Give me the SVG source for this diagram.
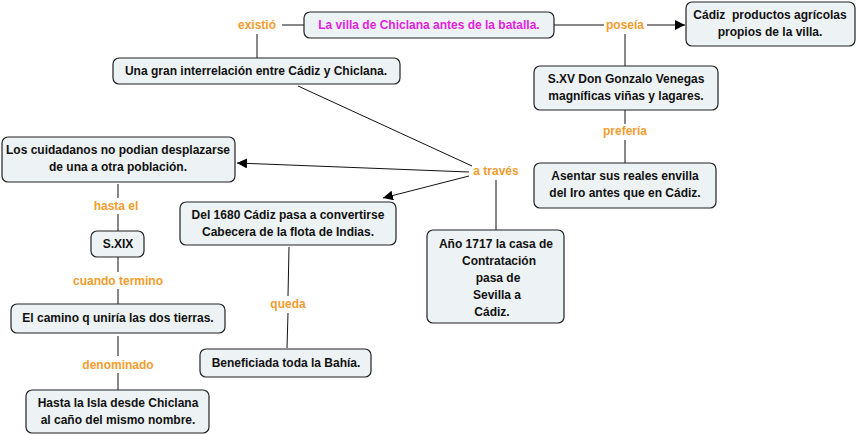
<svg xmlns="http://www.w3.org/2000/svg" width="857" height="435" viewBox="0 0 857 435">
<defs>
<marker id="arr" viewBox="0 0 10 10" refX="10" refY="5" markerWidth="10" markerHeight="10" markerUnits="userSpaceOnUse" orient="auto">
<path d="M0,0 L10,5 L0,10 z" fill="#000"/>
</marker>
</defs>
<style>
.box{fill:#edf2f4;stroke:#222;stroke-width:1.2}
.t{font-family:"Liberation Sans",Arial,sans-serif;font-size:12px;font-weight:bold;fill:#111;text-anchor:middle}
.mag{fill:#e21ee0}
.lk{font-family:"Liberation Sans",Arial,sans-serif;font-size:12px;font-weight:bold;fill:#f39c2e;text-anchor:middle}
.c{stroke:#111;stroke-width:1;fill:none}
</style>
<rect width="857" height="435" fill="#fff"/>
<g id="connectors">
<line class="c" x1="304" y1="25" x2="282" y2="25"/>
<line class="c" x1="257" y1="34" x2="257" y2="58"/>
<line class="c" x1="554" y1="25" x2="604" y2="25"/>
<line class="c" x1="647" y1="25" x2="685" y2="25" marker-end="url(#arr)"/>
<line class="c" x1="625" y1="34" x2="625" y2="66"/>
<line class="c" x1="625" y1="110" x2="625" y2="124"/>
<line class="c" x1="625" y1="140" x2="625" y2="163"/>
<line class="c" x1="298" y1="86" x2="472" y2="166"/>
<line class="c" x1="469" y1="172" x2="237" y2="163" marker-end="url(#arr)"/>
<line class="c" x1="469" y1="176" x2="383" y2="198" marker-end="url(#arr)"/>
<line class="c" x1="496" y1="180" x2="496" y2="230"/>
<line class="c" x1="118" y1="184" x2="118" y2="198"/>
<line class="c" x1="118" y1="214" x2="118" y2="231"/>
<line class="c" x1="118" y1="257" x2="118" y2="272"/>
<line class="c" x1="118" y1="289" x2="118" y2="304"/>
<line class="c" x1="118" y1="336" x2="118" y2="356"/>
<line class="c" x1="118" y1="373" x2="118" y2="390"/>
<line class="c" x1="289" y1="247" x2="288" y2="296"/>
<line class="c" x1="288" y1="313" x2="287" y2="348"/>
</g>
<g id="l-existio"><text class="lk" x="257" y="29">existió</text></g>
<g id="l-poseia"><text class="lk" x="625" y="29">poseía</text></g>
<g id="l-preferia"><text class="lk" x="625" y="135">prefería</text></g>
<g id="l-atraves"><text class="lk" x="496" y="175">a través</text></g>
<g id="l-hastael"><text class="lk" x="116" y="210">hasta el</text></g>
<g id="l-cuando"><text class="lk" x="118" y="285">cuando termino</text></g>
<g id="l-denominado"><text class="lk" x="118" y="369">denominado</text></g>
<g id="l-queda"><text class="lk" x="288" y="308">queda</text></g>

<g id="n1"><rect class="box" x="304" y="12" width="250" height="26" rx="6"/><text class="t mag" x="429" y="29">La villa de Chiclana antes de la batalla.</text></g>
<g id="n2"><rect class="box" x="686" y="2" width="169" height="44" rx="6"/><text class="t" x="770" y="19">Cádiz&#160; productos agrícolas</text><text class="t" x="770" y="36">propios de la villa.</text></g>
<g id="n3"><rect class="box" x="113" y="58" width="287" height="26" rx="6"/><text class="t" x="256" y="75">Una gran interrelación entre Cádiz y Chiclana.</text></g>
<g id="n4"><rect class="box" x="534" y="66" width="184" height="44" rx="6"/><text class="t" x="626" y="83">S.XV Don Gonzalo Venegas</text><text class="t" x="626" y="100">magníficas viñas y lagares.</text></g>
<g id="n5"><rect class="box" x="534" y="163" width="182" height="45" rx="6"/><text class="t" x="625" y="180">Asentar sus reales envilla</text><text class="t" x="625" y="197">del Iro antes que en Cádiz.</text></g>
<g id="n6"><rect class="box" x="2" y="137" width="233" height="45" rx="6"/><text class="t" x="118" y="154">Los cuidadanos no podian desplazarse</text><text class="t" x="118" y="171">de una a otra población.</text></g>
<g id="n7"><rect class="box" x="180" y="202" width="216" height="43" rx="6"/><text class="t" x="288" y="219">Del 1680 Cádiz pasa a convertirse</text><text class="t" x="288" y="236">Cabecera de la flota de Indias.</text></g>
<g id="n8"><rect class="box" x="427" y="230" width="137" height="93" rx="6"/><text class="t" x="496" y="248">Año 1717 la casa de</text><text class="t" x="499" y="265">Contratación</text><text class="t" x="498" y="282">pasa de</text><text class="t" x="497" y="299">Sevilla a</text><text class="t" x="492" y="316">Cádiz.</text></g>
<g id="n9"><rect class="box" x="91" y="231" width="53" height="26" rx="6"/><text class="t" x="118" y="248">S.XIX</text></g>
<g id="n10"><rect class="box" x="11" y="304" width="214" height="29" rx="6"/><text class="t" x="118" y="322">El camino q uniría las dos tierras.</text></g>
<g id="n11"><rect class="box" x="200" y="349" width="171" height="28" rx="6"/><text class="t" x="286" y="367">Beneficiada toda la Bahía.</text></g>
<g id="n12"><rect class="box" x="26" y="390" width="183" height="43" rx="6"/><text class="t" x="118" y="407">Hasta la Isla desde Chiclana</text><text class="t" x="118" y="424">al caño del mismo nombre.</text></g>
</svg>
